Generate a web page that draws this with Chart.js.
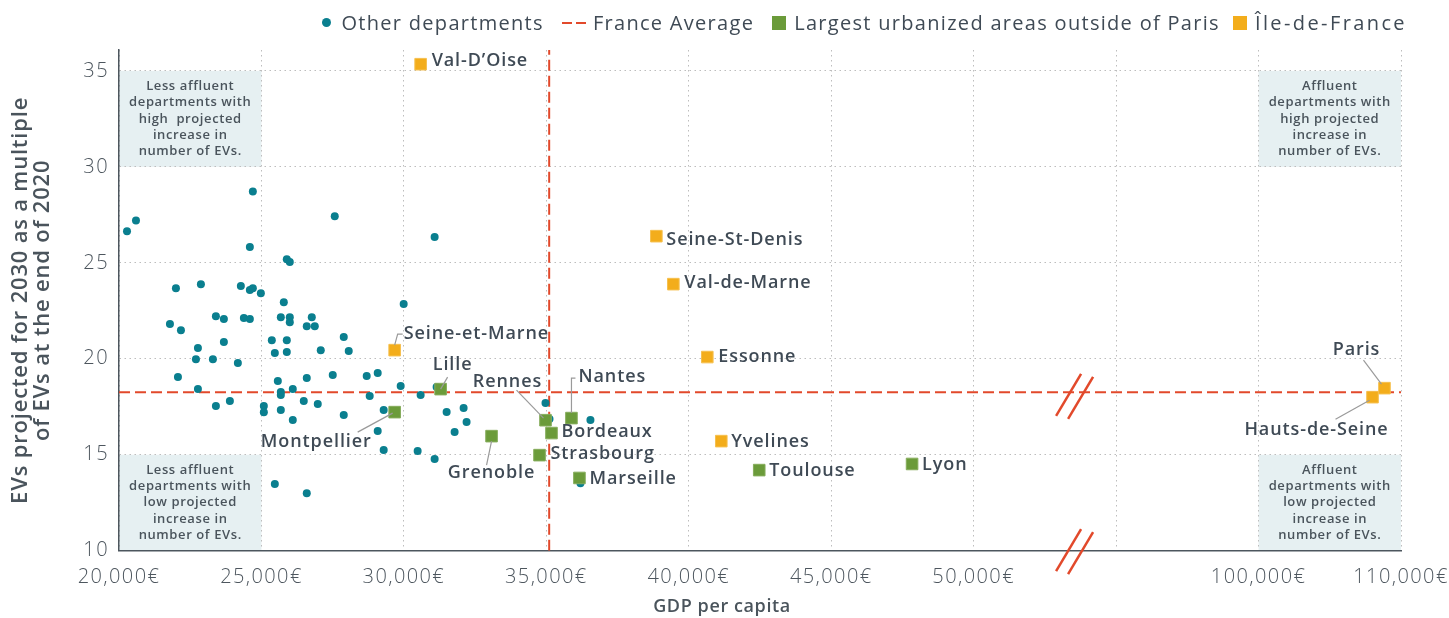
<!DOCTYPE html>
<html>
<head>
<meta charset="utf-8">
<script src="https://cdn.jsdelivr.net/npm/chart.js@4.4.1/dist/chart.umd.min.js"></script>
<style>
  html, body { margin: 0; padding: 0; background: #fff; }
  #wrap { position: relative; width: 1449px; height: 618px; }
  #legend {
    position: absolute; top: 9px; right: 42px;
    display: flex; align-items: center;
    font-family: 'Open Sans', sans-serif; font-size: 20px; color: #3f4a55;
    letter-spacing: 1.3px;
  }
  #legend .item { display: flex; align-items: center; margin-left: 18px; }
  #legend .mk { display: inline-block; margin-right: 8px; }
  #legend .dot { width: 9px; height: 9px; border-radius: 50%; background: #0a7f8f; margin-right: 10px; }
  #legend .dash { width: 10px; height: 2px; background: #e2492b; margin-right: 4px; }
  #legend .sq { width: 14px; height: 14px; }
</style>
</head>
<body>
<div id="wrap">
  <canvas id="chart"></canvas>
  <div id="legend">
    <span class="item"><span class="mk dot"></span>Other departments</span>
    <span class="item"><span class="mk dash"></span><span class="mk dash" style="margin-right:7px"></span>France Average</span>
    <span class="item"><span class="mk sq" style="background:#6b9b3a"></span>Largest urbanized areas outside of Paris</span>
    <span class="item" style="margin-left:13px;letter-spacing:2.4px"><span class="mk sq" style="background:#f3ad1b"></span>Île-de-France</span>
  </div>
</div>
<script>
// ---- data (GDP per capita in €, EVs 2030 / EVs 2020) ----
const otherGdp = [20281, 20596, 24698, 27573, 31079, 24593, 25890, 25995,
  21998, 22875, 24277, 24593, 24698, 24979,
  21788, 22174, 23401, 23681, 24383, 24593, 25785, 25680, 25995, 25995, 26591, 26767, 26872, 27889, 28064, 29992,
  25364, 25890, 25470, 25890, 27082, 22770, 23681, 22700, 23296, 24172,
  22069, 22770, 23401, 23892, 25084, 25084, 25575, 25680, 25680, 25680, 26100, 26100, 26486, 26591, 26977, 27503,
  27889, 28695, 28800, 29081, 29291, 29081, 29291, 29887, 30588, 30483, 31079, 31149, 31500, 32096, 32201, 31780,
  34971, 25470, 26591, 35111, 36548, 36197];
const otherEv = [26.64, 27.21, 28.72, 27.43, 26.34, 25.82, 25.19, 25.04,
  23.68, 23.89, 23.79, 23.58, 23.68, 23.42,
  21.81, 21.49, 22.22, 22.07, 22.12, 22.07, 22.95, 22.17, 22.17, 21.91, 21.70, 22.17, 21.70, 21.13, 20.41, 22.85,
  20.97, 20.97, 20.30, 20.36, 20.45, 20.56, 20.87, 19.98, 19.98, 19.78,
  19.05, 18.42, 17.54, 17.80, 17.54, 17.22, 18.84, 18.27, 18.11, 17.33, 18.42, 16.81, 17.80, 19.00, 17.64, 19.16,
  17.07, 19.10, 18.06, 19.26, 17.33, 16.24, 15.25, 18.58, 18.11, 15.20, 14.78, 18.53, 17.23, 17.43, 16.70, 16.18,
  17.69, 13.47, 13.00, 16.86, 16.81, 13.52];

const urbanNames = ['Montpellier', 'Lille', 'Rennes', 'Nantes', 'Bordeaux', 'Strasbourg', 'Grenoble', 'Marseille', 'Toulouse', 'Lyon'];
const urbanGdp = [29676, 31289, 34971, 35882, 35181, 34761, 33077, 36162, 42473, 47838];
const urbanEv = [17.22, 18.42, 16.80, 16.91, 16.13, 14.98, 15.97, 13.79, 14.20, 14.52];

const idfNames = ['Val-D’Oise', 'Seine-St-Denis', 'Val-de-Marne', 'Seine-et-Marne', 'Essonne', 'Yvelines', 'Paris', 'Hauts-de-Seine'];
const idfGdp = [30588, 38862, 39458, 29676, 40650, 41141, 108840, 108000];
const idfEv = [35.35, 26.39, 23.89, 20.45, 20.09, 15.71, 18.47, 18.00];

const franceAvgGdp = 35100;
const franceAvgEv = 18.25;

const xTickValues = [20000, 25000, 30000, 35000, 40000, 45000, 50000, 55000, 100000, 110000];
const xTickLabels = ['20,000€', '25,000€', '30,000€', '35,000€', '40,000€', '45,000€', '50,000€', '', '100,000€', '110,000€'];
const yTickValues = [10, 15, 20, 25, 30, 35];
const yMin = 10, yMax = 36.09;

const xTitle = 'GDP per capita';
const yTitle = ['EVs projected for 2030 as a multiple', 'of EVs at the end of 2020'];

const quadrantGdp = [[20000, 25000], [100000, 110000]];
const quadrantEv = [[30, 35], [10, 15]];
const quadrantText = [
  [['Less affluent', 'departments with', 'high  projected', 'increase in', 'number of EVs.'],
   ['Less affluent', 'departments with', 'low projected', 'increase in', 'number of EVs.']],
  [['Affluent', 'departments with', 'high projected', 'increase in', 'number of EVs.'],
   ['Affluent', 'departments with', 'low projected', 'increase in', 'number of EVs.']]
];

// broken axis: 100k-110k squeezed in after 60k at half scale
const BREAK_AT = 53560;
function toAxis(gdp) { return gdp <= 60000 ? gdp : 60000 + (gdp - 100000) / 2; }

const TEAL = '#0a7f8f', GREEN = '#6b9b3a', ORANGE = '#f3ad1b', RED = '#e2492b';
const TEXT = '#3f4a55';
const FONT = "'Open Sans', sans-serif";

// label placement: [dx, dy, align, leader points]
const labelStyle = {
  'Val-D’Oise': [11, -3, 'left'],
  'Seine-St-Denis': [10, 4, 'left'],
  'Val-de-Marne': [11, -1, 'left'],
  'Essonne': [11, 0, 'left'],
  'Yvelines': [10, 1, 'left'],
  'Toulouse': [10, 1, 'left'],
  'Lyon': [10, 1, 'left'],
  'Marseille': [10, 1, 'left'],
  'Bordeaux': [10, -1, 'left'],
  'Strasbourg': [11, -1, 'left'],
  'Seine-et-Marne': [9, -16, 'left', [[0, -5], [3, -16], [8, -16]]],
  'Lille': [12, -24, 'center', [[0, 0], [7, -12]]],
  'Rennes': [-38, -38, 'center', [[-29, -30], [-2, -2]]],
  'Nantes': [7, -41, 'left', [[0, -5], [0, -40], [4, -40]]],
  'Montpellier': [-23, 30, 'right', [[-37, 20], [-2, 1]]],
  'Grenoble': [0, 37, 'center', [[0, 5], [-5, 29]]],
  'Paris': [-28, -38, 'center', [[-21, -28], [-3, -4]]],
  'Hauts-de-Seine': [-56, 33, 'center', [[-3, 3], [-37, 22]]]
};

const decor = {
  id: 'decor',
  beforeDraw(chart) {
    const {ctx, scales: {x, y}} = chart;
    ctx.save();
    ctx.letterSpacing = '0.6px';
    quadrantGdp.forEach((gx, i) => {
      quadrantEv.forEach((ey, j) => {
        const x0 = x.getPixelForValue(toAxis(gx[0])), x1 = x.getPixelForValue(toAxis(gx[1]));
        const y0 = y.getPixelForValue(ey[1]), y1 = y.getPixelForValue(ey[0]);
        ctx.fillStyle = '#e6f0f2';
        ctx.fillRect(x0, y0, x1 - x0, y1 - y0);
        const lines = quadrantText[i][j];
        ctx.fillStyle = '#4a545c';
        ctx.font = '600 13px ' + FONT;
        ctx.textAlign = 'center';
        ctx.textBaseline = 'middle';
        const cx = (x0 + x1) / 2, cy = (y0 + y1) / 2;
        lines.forEach((t, k) => ctx.fillText(t, cx, cy + (k - 2) * 16.2));
      });
    });
    ctx.restore();
    // wider tracking for the tick labels (Gotham-like width)
    ctx.letterSpacing = '1.4px';
  },
  beforeDatasetsDraw(chart) {
    chart.ctx.letterSpacing = '0px';
  },
  afterDatasetsDraw(chart) {
    const {ctx, scales: {x, y}} = chart;
    ctx.save();
    // axis break marks
    ctx.strokeStyle = RED;
    ctx.lineWidth = 2.5;
    [[franceAvgEv, 4], [yMin, 1]].forEach(([v, off]) => {
      const cx = x.getPixelForValue(BREAK_AT), cy = y.getPixelForValue(v) + off;
      [-6, 6].forEach(s => {
        ctx.beginPath();
        ctx.moveTo(cx + s - 13, cy + 21 + s / 4);
        ctx.lineTo(cx + s + 12, cy - 21 + s / 4);
        ctx.stroke();
      });
    });
    // point labels
    const groups = [[urbanNames, urbanGdp, urbanEv], [idfNames, idfGdp, idfEv]];
    ctx.font = '600 18px ' + FONT;
    ctx.letterSpacing = '0.9px';
    ctx.textBaseline = 'middle';
    groups.forEach(([names, gdp, ev]) => {
      names.forEach((n, i) => {
        const st = labelStyle[n];
        if (!st) return;
        const px = x.getPixelForValue(toAxis(gdp[i])), py = y.getPixelForValue(ev[i]);
        if (st[3]) {
          ctx.strokeStyle = '#9a9a9a';
          ctx.lineWidth = 1.2;
          ctx.beginPath();
          st[3].forEach(([dx, dy], k) => k ? ctx.lineTo(px + dx, py + dy) : ctx.moveTo(px + dx, py + dy));
          ctx.stroke();
        }
        ctx.fillStyle = TEXT;
        ctx.textAlign = st[2];
        ctx.fillText(n, px + st[0], py + st[1]);
      });
    });
    // axis titles
    ctx.fillStyle = '#4a545c';
    ctx.textAlign = 'center';
    ctx.font = '600 18px ' + FONT;
    ctx.letterSpacing = '0.6px';
    ctx.fillText(xTitle, 722, 607);
    ctx.font = '600 22px ' + FONT;
    ctx.letterSpacing = '0.8px';
    const cy = (chart.chartArea.top + chart.chartArea.bottom) / 2;
    ctx.translate(21, cy);
    ctx.rotate(-Math.PI / 2);
    yTitle.forEach((t, k) => ctx.fillText(t, 0, k * 22));
    ctx.restore();
  }
};

const pts = (gx, ey) => gx.map((g, i) => ({x: toAxis(g), y: ey[i]}));

new Chart(document.getElementById('chart'), {
  type: 'scatter',
  data: {
    datasets: [
      {
        label: 'Île-de-France',
        data: pts(idfGdp, idfEv),
        pointStyle: 'rect', pointRadius: 8.2, pointHoverRadius: 8.2,
        backgroundColor: ORANGE, borderColor: '#f6c04f', borderWidth: 1
      },
      {
        label: 'Largest urbanized areas outside of Paris',
        data: pts(urbanGdp, urbanEv),
        pointStyle: 'rect', pointRadius: 8.2, pointHoverRadius: 8.2,
        backgroundColor: GREEN, borderColor: '#86ad5c', borderWidth: 1
      },
      {
        label: 'Other departments',
        data: pts(otherGdp, otherEv),
        pointRadius: 4, pointHoverRadius: 4,
        backgroundColor: TEAL, borderWidth: 0
      },
      {
        label: 'France Average',
        data: [{x: toAxis(xTickValues[0]), y: franceAvgEv}, {x: toAxis(xTickValues[xTickValues.length - 1]), y: franceAvgEv}],
        showLine: true, pointRadius: 0, borderColor: RED, borderWidth: 2, borderDash: [11, 5]
      },
      {
        label: 'France Average (GDP)',
        data: [{x: franceAvgGdp, y: yMin}, {x: franceAvgGdp, y: yMax}],
        showLine: true, pointRadius: 0, borderColor: RED, borderWidth: 2, borderDash: [11, 5]
      }
    ]
  },
  options: {
    responsive: true,
    maintainAspectRatio: false,
    animation: false,
    layout: { padding: { top: 50, right: 48, left: 0, bottom: 0 } },
    plugins: {
      legend: { display: false },
      tooltip: { enabled: false }
    },
    scales: {
      x: {
        type: 'linear',
        min: toAxis(xTickValues[0]),
        max: toAxis(xTickValues[xTickValues.length - 1]),
        afterBuildTicks: s => { s.ticks = xTickValues.map(v => ({value: toAxis(v)})); },
        afterFit: s => { s.height = 67.3; s.paddingLeft = 0; s.paddingRight = 0; },
        ticks: {
          padding: 15,
          color: '#4d565e',
          font: { family: FONT, size: 20, weight: '300' },
          callback: (v, i) => xTickLabels[i]
        },
        grid: { color: '#bdbdbd', lineWidth: 1, drawTicks: false },
        border: { color: '#4d565e', width: 1.5, dash: [1.5, 3.5] }
      },
      y: {
        min: yMin, max: yMax,
        afterBuildTicks: s => { s.ticks = yTickValues.map(v => ({value: v})); },
        afterFit: s => { s.width = 119; s.paddingTop = 0; s.paddingBottom = 0; },
        ticks: {
          padding: 10,
          color: '#4d565e',
          font: { family: FONT, size: 20, weight: '300' }
        },
        grid: { color: '#bdbdbd', lineWidth: 1, drawTicks: false },
        border: { color: '#4d565e', width: 1.5, dash: [1.5, 3.5] }
      }
    }
  },
  plugins: [decor]
});
</script>
</body>
</html>
